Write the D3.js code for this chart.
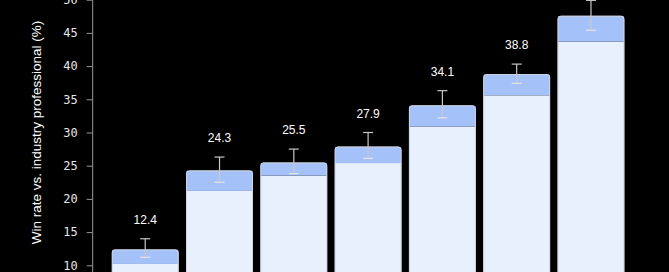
<!DOCTYPE html>
<html>
<head>
<meta charset="utf-8">
<script src="https://cdn.jsdelivr.net/npm/d3@7"></script>
<style>
  html, body { margin: 0; padding: 0; background: #000; }
  svg { display: block; }
</style>
</head>
<body>
<svg id="chart" width="669" height="272"></svg>
<script>
const categories = ["A", "B", "C", "D", "E", "F", "G"];
const totalValues = [12.4, 24.3, 25.5, 27.9, 34.1, 38.8, 47.6];
const baseValues = [10.2, 21.2, 23.5, 25.4, 30.9, 35.6, 43.7];
const errLow = [11.2, 22.5, 23.8, 26.1, 32.2, 37.4, 45.4];
const errHigh = [14.0, 26.3, 27.5, 30.0, 36.3, 40.3, 49.9];
const labels = ["12.4", "24.3", "25.5", "27.9", "34.1", "38.8", "47.6"];
const yTicks = [10, 15, 20, 25, 30, 35, 40, 45, 50];
const yTitle = "Win rate vs. industry professional (%)";

const svg = d3.select("#chart");
svg.append("rect").attr("width", 669).attr("height", 272).attr("fill", "#000");

const axisX = 92.7;
const y = d3.scaleLinear().domain([0, 50]).range([331.7, -0.3]);
const x = d3.scaleBand().domain(categories).range([axisX, 643.5])
  .paddingInner(0.098).paddingOuter(0.256);

const rows = categories.map((c, i) => ({
  c, total: totalValues[i], base: baseValues[i], lo: errLow[i], hi: errHigh[i], label: labels[i]
}));

const g = svg.append("g");
const bw = x.bandwidth();
const r = 3;

const defs = svg.append("defs");
rows.forEach((d, i) => {
  defs.append("clipPath").attr("id", "clip" + i)
    .append("rect")
    .attr("x", x(d.c)).attr("y", y(d.total))
    .attr("width", bw).attr("height", y(0) - y(d.total) + 10)
    .attr("rx", r).attr("ry", r);
});

const bars = g.selectAll("g.bar").data(rows).join("g").attr("class", "bar");

bars.append("rect")
  .attr("clip-path", (d, i) => `url(#clip${i})`)
  .attr("x", d => x(d.c)).attr("y", d => y(d.base))
  .attr("width", bw).attr("height", d => y(0) - y(d.base) + 10)
  .attr("fill", "#e8effd");

bars.append("rect")
  .attr("clip-path", (d, i) => `url(#clip${i})`)
  .attr("x", d => x(d.c)).attr("y", d => y(d.total))
  .attr("width", bw).attr("height", d => y(d.base) - y(d.total))
  .attr("fill", "#a5c1f9");

bars.append("rect")
  .attr("x", d => x(d.c) + 0.5).attr("y", d => y(d.total) + 0.5)
  .attr("width", bw - 1).attr("height", d => y(0) - y(d.total) + 10)
  .attr("rx", r).attr("ry", r)
  .attr("fill", "none").attr("stroke", "#d0d4dc").attr("stroke-width", 1);

const cap = 5;
bars.append("line")
  .attr("x1", d => x(d.c) + bw / 2).attr("x2", d => x(d.c) + bw / 2)
  .attr("y1", d => y(d.hi)).attr("y2", d => y(d.lo))
  .attr("stroke", "#c8c8c8").attr("stroke-width", 1.2);
bars.append("line")
  .attr("x1", d => x(d.c) + bw / 2 - cap).attr("x2", d => x(d.c) + bw / 2 + cap)
  .attr("y1", d => y(d.hi)).attr("y2", d => y(d.hi))
  .attr("stroke", "#c8c8c8").attr("stroke-width", 1.2);
bars.append("line")
  .attr("x1", d => x(d.c) + bw / 2 - cap).attr("x2", d => x(d.c) + bw / 2 + cap)
  .attr("y1", d => y(d.lo)).attr("y2", d => y(d.lo))
  .attr("stroke", "#e4e4e4").attr("stroke-width", 1.2);

bars.append("text")
  .attr("x", d => x(d.c) + bw / 2)
  .attr("y", d => y(d.hi) - 19)
  .attr("text-anchor", "middle").attr("dominant-baseline", "central")
  .attr("font-family", "Liberation Sans, Arial, sans-serif")
  .attr("font-size", 12).attr("fill", "#fff")
  .text(d => d.label);

const yAxis = d3.axisLeft(y).tickValues(yTicks).tickSize(6).tickPadding(9)
  .tickFormat(d3.format("d"));
const ax = svg.append("g").attr("transform", `translate(${axisX},0)`).call(yAxis);
ax.select(".domain").attr("stroke", "#999").attr("d", `M0,${y(0)}V${y(50)}`);
ax.selectAll(".tick line").attr("stroke", "#999");
ax.selectAll(".tick text").attr("fill", "#e6e6e6")
  .attr("font-family", "DejaVu Sans Mono, monospace").attr("font-size", 12);

svg.append("text")
  .attr("transform", `translate(36,132.5) rotate(-90)`)
  .attr("text-anchor", "middle").attr("dominant-baseline", "central")
  .attr("font-family", "Liberation Sans, Arial, sans-serif")
  .attr("font-size", 13.5).attr("fill", "#fff")
  .text(yTitle);
</script>
</body>
</html>
